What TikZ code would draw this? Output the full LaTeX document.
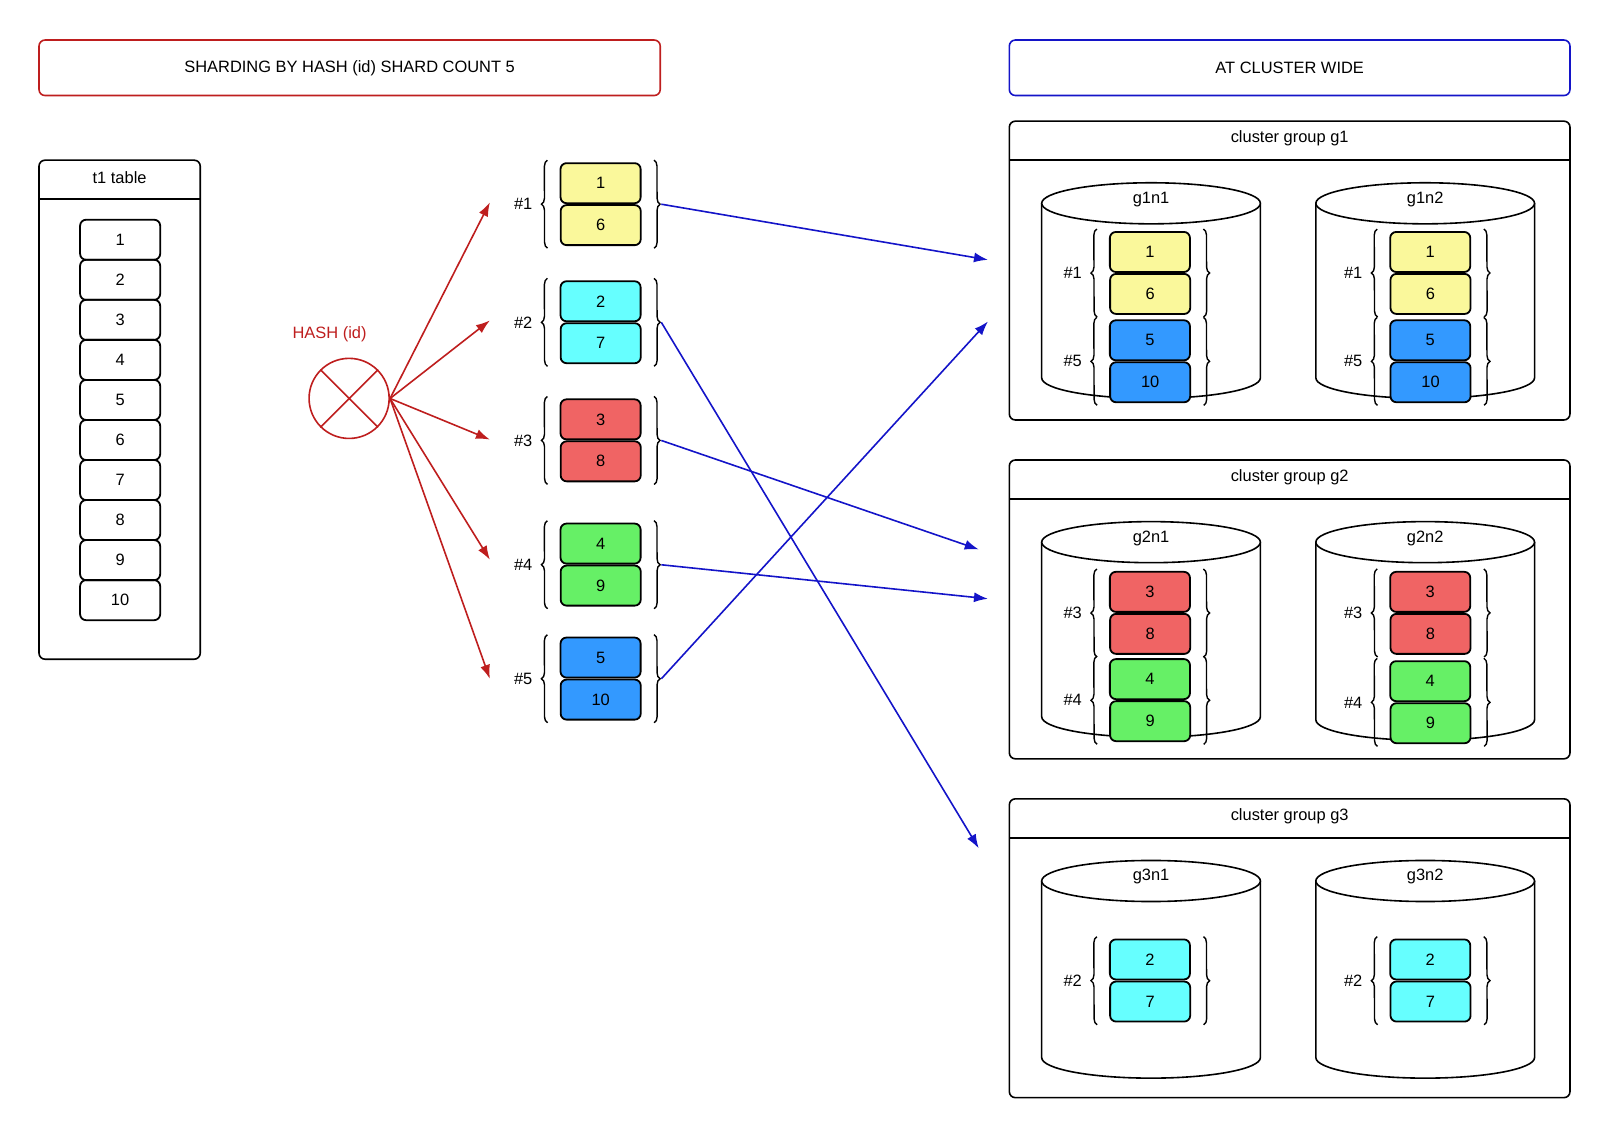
\documentclass[tikz,border=0pt]{standalone}
\usepackage{fontspec}
\setmainfont{Liberation Sans}
\usetikzlibrary{positioning, arrows.meta, calc, decorations.pathreplacing}

\definecolor{hashred}{RGB}{190,30,30}
\definecolor{mapblue}{RGB}{20,20,200}
\definecolor{shyellow}{RGB}{250,248,155}
\definecolor{shcyan}{RGB}{102,255,255}
\definecolor{shred}{RGB}{240,100,100}
\definecolor{shgreen}{RGB}{102,240,102}
\definecolor{shblue}{RGB}{51,153,255}

\tikzset{
  cell/.style={draw=black, line width=0.9pt, rounded corners=3pt, minimum width=39pt, minimum height=19.5pt, inner sep=0pt},
  brace/.style={decorate, decoration={brace, amplitude=3pt}, line width=0.7pt},
  frame/.style={draw=black, line width=0.8pt, rounded corners=3pt},
  maparrow/.style={draw=mapblue, line width=0.8pt, -{Latex[length=7pt,width=5pt]}},
  hasharrow/.style={draw=hashred, line width=0.8pt, -{Latex[length=7pt,width=5pt]}}
}

% shard pair: name, left x, top y, first, second, fill, label
\newcommand{\shardpair}[7]{
  \node[cell, fill=#6, anchor=north west] (#1a) at (#2,#3) {#4};
  \node[cell, fill=#6, anchor=north] (#1b) at (#1a.south) {#5};
  \draw[brace] ($(#1b.south west)+(-6pt,-1pt)$) -- ($(#1a.north west)+(-6pt,1pt)$)
    node[midway, left=7pt, inner sep=0pt] {#7};
  \draw[brace] ($(#1a.north east)+(6pt,1pt)$) -- ($(#1b.south east)+(6pt,-1pt)$);
  \coordinate (#1r) at ($(#1a.south east)+(9.5pt,0)$);
}

% cylinder: centre x, top y, bottom y, label
\newcommand{\drum}[4]{
  \draw[line width=0.8pt, fill=white] (#1-106.5,#2) -- (#1-106.5,#3)
    arc[start angle=180, end angle=360, x radius=53.25pt, y radius=10pt] -- (#1+106.5,#2);
  \draw[line width=0.8pt, fill=white] (#1,#2) ellipse [x radius=53.25pt, y radius=10pt];
  \node at (#1,#2-4) {#4};
}

\begin{document}
\begin{tikzpicture}[x=0.5pt, y=-0.5pt, scale=1.027, transform shape, font=\fontsize{8}{9.5}\selectfont]
\useasboundingbox (0,0) rectangle (1568,1109);

% Titles
\node[draw=hashred, line width=0.8pt, rounded corners=3pt, minimum width=302.5pt, minimum height=27pt] (title) at (340.5,66) {SHARDING BY HASH (id) SHARD COUNT 5};
\node[draw=mapblue, line width=0.8pt, rounded corners=3pt, minimum width=273pt, minimum height=27pt] (cluster) at (1256,66) {AT CLUSTER WIDE};

% t1 table
\draw[frame] (38,156) rectangle (195,642);
\draw[line width=0.8pt] (38,194) -- (195,194);
\node at (116.5,173) {t1 table};
\foreach \i in {1,...,10} {
  \node[cell] (row\i) at (117,{194.5+39*\i}) {\i};
}

% Hash
\node[draw=hashred, line width=0.8pt, circle, minimum size=39pt, inner sep=0pt] (hash) at (340,388) {};
\draw[hashred, line width=0.8pt] (hash.north west) -- (hash.south east) (hash.north east) -- (hash.south west);
\node[text=hashred] (hashlbl) at (321,326) {HASH (id)};

% Shards
\shardpair{s1}{545}{158}{1}{6}{shyellow}{\#1}
\shardpair{s2}{545}{273}{2}{7}{shcyan}{\#2}
\shardpair{s3}{545}{388}{3}{8}{shred}{\#3}
\shardpair{s4}{545}{509}{4}{9}{shgreen}{\#4}
\shardpair{s5}{545}{620}{5}{10}{shblue}{\#5}

\coordinate (h1) at (477,197);
\coordinate (h2) at (477,312);
\coordinate (h3) at (477,428);
\coordinate (h4) at (477,545);
\coordinate (h5) at (477,661);
\foreach \k in {1,...,5} {
  \draw[hasharrow] (hash.east) -- (h\k);
}

% Cluster groups
\foreach \g/\top in {1/118, 2/448, 3/778} {
  \draw[frame] (983,\top) rectangle (1529,\top+291);
  \draw[line width=0.8pt] (983,\top+38) -- (1529,\top+38);
  \node at (1256,\top+17) {cluster group g\g};
}

% Group g1
\drum{1121}{198}{368}{g1n1}
\drum{1388}{198}{368}{g1n2}
\shardpair{a1}{1080}{225}{1}{6}{shyellow}{\#1}
\shardpair{a5}{1080}{311}{5}{10}{shblue}{\#5}
\shardpair{b1}{1353}{225}{1}{6}{shyellow}{\#1}
\shardpair{b5}{1353}{311}{5}{10}{shblue}{\#5}

% Group g2
\drum{1121}{528}{698}{g2n1}
\drum{1388}{528}{701}{g2n2}
\shardpair{c3}{1080}{556}{3}{8}{shred}{\#3}
\shardpair{c4}{1080}{641}{4}{9}{shgreen}{\#4}
\shardpair{d3}{1353}{556}{3}{8}{shred}{\#3}
\shardpair{d4}{1353}{643}{4}{9}{shgreen}{\#4}

% Group g3
\drum{1121}{858}{1030}{g3n1}
\drum{1388}{858}{1030}{g3n2}
\shardpair{e2}{1080}{914}{2}{7}{shcyan}{\#2}
\shardpair{f2}{1353}{914}{2}{7}{shcyan}{\#2}

% Placement arrows
\coordinate (t1) at (962,253);
\coordinate (t2) at (953,826);
\coordinate (t3) at (953,535);
\coordinate (t4) at (962,583);
\coordinate (t5) at (962,313);
\foreach \k in {1,...,5} {
  \draw[maparrow] (s\k r) -- (t\k);
}

\end{tikzpicture}
\end{document}
